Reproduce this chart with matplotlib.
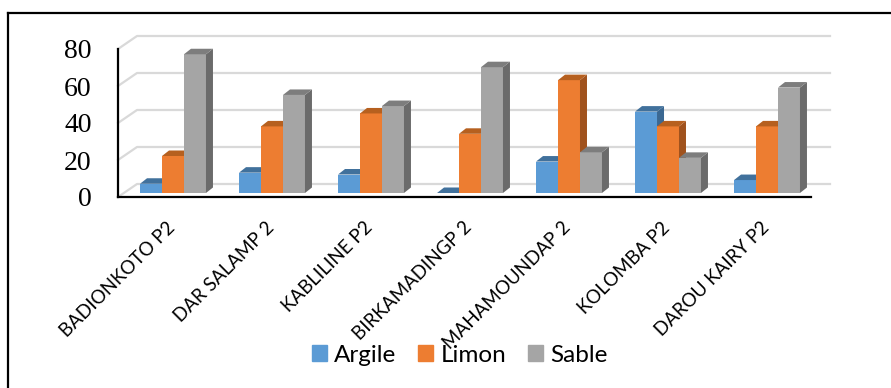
import matplotlib.pyplot as plt
from matplotlib.patches import Polygon
from matplotlib.lines import Line2D

sites = ["BADIONKOTO P2", "DAR SALAMP 2", "KABLILINE P2", "BIRKAMADINGP 2",
         "MAHAMOUNDAP 2", "KOLOMBA P2", "DAROU KAIRY P2"]
argile = [5, 11, 10, 0, 17, 44, 7]
limon = [20, 36, 43, 32, 61, 36, 36]
sable = [75, 53, 47, 68, 22, 19, 57]
series = ["Argile", "Limon", "Sable"]
yticks = [0, 20, 40, 60, 80]

# front, top, side shades of each series
shades = [("#5b9bd5", "#41719c", "#3b6892"),
          ("#ed7d31", "#b6601f", "#a0521d"),
          ("#a5a5a5", "#7d7d7d", "#6b6b6b")]

W, H, DPI = 891, 388, 100
fig = plt.figure(figsize=(W / DPI, H / DPI), dpi=DPI)
ax = fig.add_axes([118 / W, 191 / H, 693 / W, 148 / H])
ax.set_xlim(-0.5, 6.5)
ax.set_ylim(0, 80)

# pixel offsets turned into data units
ux = 693 / 7.0
uy = 148 / 80.0
def px(dx, dy):
    return dx / ux, dy / uy

mid_x, mid_y = px(5.5, 4)
dep_x, dep_y = px(7, 5.5)
wall_x, wall_y = px(19, 13)

# back wall and left wall gridlines
for v in yticks:
    ax.plot([-0.5, -0.5 + wall_x, 6.5 + wall_x], [v, v + wall_y, v + wall_y],
            color="#d9d9d9", lw=1.6, clip_on=False, zorder=0)

w = 0.222
for j, vals in enumerate([argile, limon, sable]):
    front, top, side = shades[j]
    for i, h in enumerate(vals):
        x0 = i + (j - 1) * w - w / 2 + mid_x
        y0 = mid_y
        z = 2 + j
        ax.bar(x0, h, w, bottom=y0, align="edge", color=front, lw=0,
               clip_on=False, zorder=z)
        ax.add_patch(Polygon([(x0 + w, y0), (x0 + w + dep_x, y0 + dep_y),
                              (x0 + w + dep_x, y0 + h + dep_y), (x0 + w, y0 + h)],
                             closed=True, color=side, lw=0, clip_on=False, zorder=z))
        ax.add_patch(Polygon([(x0, y0 + h), (x0 + w, y0 + h),
                              (x0 + w + dep_x, y0 + h + dep_y), (x0 + dep_x, y0 + h + dep_y)],
                             closed=True, color=top, lw=0, clip_on=False, zorder=z))

for s in ["top", "right"]:
    ax.spines[s].set_visible(False)
for s in ["left", "bottom"]:
    ax.spines[s].set_color("black")
    ax.spines[s].set_linewidth(1.6)
    ax.spines[s].set_zorder(6)
ax.patch.set_visible(False)

ax.set_yticks(yticks)
ax.set_yticklabels([str(t) for t in yticks], fontfamily="Liberation Serif", fontsize=20)
ax.tick_params(axis="y", length=0, pad=19)

ax.set_xticks([i + mid_x - 0.01 for i in range(len(sites))])
ax.set_xticklabels(sites, rotation=45, ha="right", va="center", rotation_mode="anchor",
                   fontfamily="Lato", fontsize=13.5)
ax.tick_params(axis="x", length=0, pad=20)

handles = [plt.Rectangle((0, 0), 1, 1, color=shades[k][0]) for k in range(3)]
fig.legend(handles, series, loc="center", bbox_to_anchor=(0.516, 0.085), ncol=3,
           frameon=False, prop={"family": "Lato", "size": 17.5},
           handlelength=0.62, handleheight=0.62, handletextpad=0.3, columnspacing=0.9)

# outer frame
fig.add_artist(Line2D([7.5 / W, 7.5 / W], [0, 1 - 12.5 / H], color="black", lw=1.6))
fig.add_artist(Line2D([7.5 / W, 1], [1 - 12.5 / H, 1 - 12.5 / H], color="black", lw=1.6))

fig.savefig("out.png", dpi=DPI)
